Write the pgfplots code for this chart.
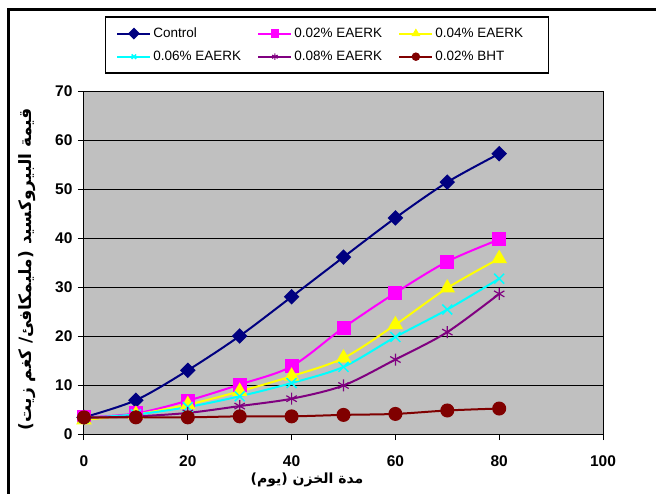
\documentclass[border=0pt]{standalone}
\usepackage{fontspec}
\setmainfont{Liberation Sans}
\newfontfamily\arabicfont[Script=Arabic]{DejaVu Sans}
\TeXXeTstate=1
\usepackage{pgfplots}
\pgfplotsset{compat=1.18}
\definecolor{cnavy}{HTML}{000080}
\definecolor{cmag}{HTML}{FF00FF}
\definecolor{cyel}{HTML}{FFFF00}
\definecolor{ccyan}{HTML}{00FFFF}
\definecolor{cpurp}{HTML}{800080}
\definecolor{cdred}{HTML}{800000}
\definecolor{cbg}{HTML}{C0C0C0}
\begin{document}
\begin{tikzpicture}
\path[use as bounding box] (-84pt,-59pt) rectangle (572pt,434pt);
\draw[line width=3pt, line join=miter] (-75.5pt,-80pt) -- (-75.5pt,424pt) -- (600pt,424pt);
\begin{axis}[
  at={(0pt,0pt)}, anchor=south west, scale only axis,
  width=519pt, height=343pt,
  xmin=0, xmax=100, ymin=0, ymax=70,
  xtick={0,20,...,100}, ytick={0,10,...,70},
  xtick pos=bottom, ytick pos=left,
  ymajorgrids, major grid style={black, line width=1pt},
  axis background/.style={fill=cbg},
  axis line style={line width=1pt},
  tick style={black, line width=1pt},
  tick align=outside, major tick length=6pt,
  /pgf/number format/assume math mode=true,
  ticklabel style={font=\fontsize{15.5}{18}\selectfont\bfseries},
  x tick label style={yshift=-12pt},
  y tick label style={xshift=-2pt},
  xlabel={\arabicfont\bfseries\beginR مدة الخزن (يوم)\endR},
  ylabel={\arabicfont\bfseries\beginR قيمة البيروكسيد (مليمكافئ/ كغم زيت)\endR},
  xlabel style={at={(axis description cs:0.4297,-0.1335)}, anchor=center, font=\fontsize{14}{16}\selectfont},
  ylabel style={at={(axis description cs:-0.1089,0.481)}, anchor=center, font=\fontsize{17}{19}\selectfont},
  legend columns=3,
  legend style={at={(axis description cs:0.468,1.134)}, anchor=center, draw=black, line width=1.5pt, fill=white,
    font=\fontsize{13.5}{16}\selectfont, inner xsep=11pt, inner ysep=9pt,
    /tikz/every even column/.append style={column sep=2pt},
    /tikz/every odd column/.append style={column sep=0pt}, row sep=8pt},
  legend cell align=left,
  legend image code/.code={\draw[mark repeat=2,mark phase=2,#1,mark size=3.2pt] plot coordinates {(0pt,0pt) (16.5pt,0pt) (33pt,0pt)};},
  every axis plot/.append style={line width=2pt, smooth},
]
\addplot[color=cnavy, mark=square*, mark size=4.5pt, mark options={solid, rotate=45, fill=cnavy}] coordinates {
(0,3.4) (10,6.9) (20,13.0) (30,20.0) (40,28.0) (50,36.1) (60,44.1) (70,51.4) (80,57.2)};
\addlegendentry{\makebox[100pt][l]{Control}}
\addplot[color=cmag, mark=square*, mark size=6pt, mark options={solid, fill=cmag}] coordinates {
(0,3.4) (10,4.2) (20,6.8) (30,10.1) (40,13.8) (50,21.7) (60,28.8) (70,35.2) (80,39.7)};
\addlegendentry{\makebox[100pt][l]{0.02\% EAERK}}
\addplot[color=cyel, mark=triangle*, mark size=7pt, mark options={solid, fill=cyel}] coordinates {
(0,2.9) (10,4.0) (20,6.0) (30,8.7) (40,11.8) (50,15.5) (60,22.3) (70,29.8) (80,35.8)};
\addlegendentry{\makebox[100pt][l]{0.04\% EAERK}}
\addplot[color=ccyan, mark=x, mark size=7pt, mark options={solid, line width=1.5pt}] coordinates {
(0,3.3) (10,4.0) (20,5.5) (30,7.7) (40,10.4) (50,13.7) (60,19.8) (70,25.4) (80,31.7)};
\addlegendentry{\makebox[100pt][l]{0.06\% EAERK}}
\addplot[color=cpurp, mark=asterisk, mark size=6pt, mark options={solid, line width=1.2pt}] coordinates {
(0,3.3) (10,3.6) (20,4.3) (30,5.7) (40,7.2) (50,9.9) (60,15.2) (70,20.8) (80,28.6)};
\addlegendentry{\makebox[100pt][l]{0.08\% EAERK}}
\addplot[color=cdred, mark=*, mark size=6pt, mark options={solid, fill=cdred}] coordinates {
(0,3.4) (10,3.4) (20,3.4) (30,3.6) (40,3.6) (50,3.9) (60,4.1) (70,4.8) (80,5.2)};
\addlegendentry{\makebox[100pt][l]{0.02\% BHT}}
\end{axis}
\end{tikzpicture}
\end{document}
